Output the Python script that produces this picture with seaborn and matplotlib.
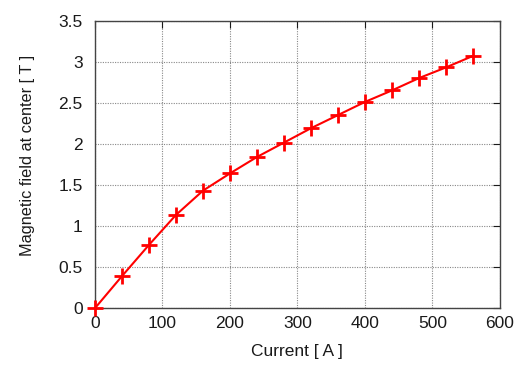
import matplotlib
matplotlib.use("Agg")
import matplotlib.pyplot as plt
import seaborn as sns
import pandas as pd

current = [0, 40, 80, 120, 160, 200, 240, 280, 320, 360, 400, 440, 480, 520, 560]
field = [0.0, 0.39, 0.77, 1.135, 1.43, 1.64, 1.84, 2.015, 2.19, 2.35, 2.51, 2.65, 2.80, 2.93, 3.07]
xticks = [0, 100, 200, 300, 400, 500, 600]
yticks = [0, 0.5, 1, 1.5, 2, 2.5, 3, 3.5]
yticklabels = ["0", "0.5", "1", "1.5", "2", "2.5", "3", "3.5"]

sns.set_style("white")
plt.rcParams['font.family'] = ['Liberation Sans', 'DejaVu Sans']

df = pd.DataFrame({"Current": current, "Field": field})

fig = plt.figure(figsize=(5.25, 3.69), dpi=100)
ax = fig.add_axes([0.181, 0.165, 0.771, 0.779])
sns.lineplot(data=df, x="Current", y="Field", ax=ax, color="#ff0000",
             linewidth=1.5, marker="+", markersize=12, markeredgewidth=2,
             markeredgecolor="#ff0000", clip_on=False, zorder=5)

ax.set_xlim(0, 600)
ax.set_ylim(0, 3.5)
ax.set_xticks(xticks)
ax.set_yticks(yticks)
ax.set_yticklabels(yticklabels)
ax.grid(True, color="#888888", linestyle=(0, (1, 1.2)), linewidth=0.8)
ax.tick_params(direction="in", length=5, width=0.8, top=True, right=True,
               labelsize=12.5, colors="#1a1a1a")
ax.tick_params(axis="y", pad=9)
ax.tick_params(axis="x", pad=6)
for s in ax.spines.values():
    s.set_color("#444444")
    s.set_linewidth(1.0)
ax.set_xlabel("Current [ A ]", fontsize=12.5, color="#1a1a1a", labelpad=9)
ax.set_ylabel("Magnetic field at center [ T ]", fontsize=11.7, color="#1a1a1a")
ax.yaxis.set_label_coords(-0.148, 0.532)

fig.savefig("out.png", dpi=100)
